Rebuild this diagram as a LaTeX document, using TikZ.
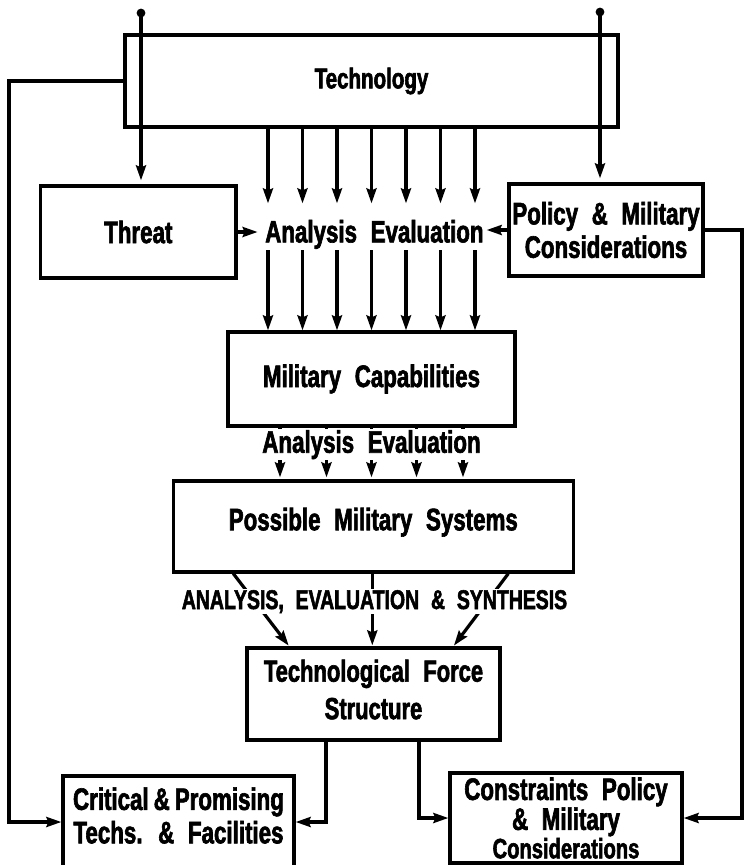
\documentclass[tikz,border=0pt]{standalone}
\usepackage{fontspec}
\newfontfamily\cf{Liberation Sans}[FakeStretch=0.72,WordSpace=2.2,FakeBold=2]
\usetikzlibrary{arrows.meta,calc}
\newcommand\boxfnt{\cf\bfseries\fontsize{31}{33.4}\selectfont}
\begin{document}
\begin{tikzpicture}[x=1pt,y=-1pt,line width=3.2pt,
  box/.style={draw,rectangle,inner sep=0pt,align=center,font=\boxfnt},
  txt/.style={inner sep=0pt,align=center,font=\boxfnt},
  arr/.style={-{Stealth[length=15pt,width=10pt,inset=2pt]}}]
\useasboundingbox (0,0) rectangle (747,865);

% boxes
\node[box,minimum width=493pt,minimum height=92pt,font={\cf\bfseries\fontsize{28.5}{30}\selectfont}] (tech) at (371.5,81) {Technology};
\node[box,minimum width=195.5pt,minimum height=92pt] (threat) at (138.3,232) {Threat};
\node[box,minimum width=194pt,minimum height=92pt] (policy) at (606,230) {Policy \& Military\\Considerations};
\node[box,minimum width=287pt,minimum height=94pt] (mc) at (371.5,379) {Military Capabilities};
\node[box,minimum width=400pt,minimum height=91pt,text depth=15pt] (pms) at (373.3,526.5) {Possible Military Systems};
\node[box,minimum width=253pt,minimum height=92pt] (tfs) at (373.5,694) {};
\node[txt,font={\cf\bfseries\fontsize{30.5}{37.5}\selectfont}] (tfslbl) at (373.5,689.5) {Technological Force\\Structure};
\node[box,minimum width=231pt,minimum height=92pt] (crit) at (178.5,822) {};
\node[txt] (critlbl) at (178.5,815.5) {Critical\hspace{5pt}\&\hspace{5pt}Promising\\Techs. \& Facilities};
\node[box,minimum width=232pt,minimum height=90pt,font={\cf\bfseries\fontsize{31}{28.4}\selectfont}] (cons) at (566,818) {Constraints Policy\\\& Military\\{\fontsize{28}{28.4}\selectfont Considerations}};

% upper analysis text
\node[txt,anchor=base,text height=37.4pt,text depth=6pt] (ae1) at (374.4,242.4) {Analysis Evaluation};

% inputs with dots
\coordinate (inL) at (141,13);
\coordinate (inR) at (600,12);
\fill (inL) circle (4.4pt);
\fill (inR) circle (4.4pt);
\draw[arr,shorten >=4pt] (inL) -- (inL |- threat.north);
\draw[arr,shorten >=4pt] (inR) -- (inR |- policy.north);

% technology -> analysis -> capabilities
\foreach \d in {-103.5,-69,-34.5,0,34.5,69,103.5}{
  \draw[arr] ([xshift=\d pt]tech.south) -- ([xshift=\d pt]tech.south |- ae1.north);
  \draw[arr] ([xshift=\d pt]mc.north |- ae1.south) -- ([xshift=\d pt]mc.north);
}
\draw[arr,shorten >=6pt] (threat.east) -- (threat.east -| ae1.west);
\draw[arr,shorten >=1.5pt] (policy.west) -- (policy.west -| ae1.east);

% capabilities -> systems
\foreach \d in {-91.5,-45,0,45,91.5}{
  \draw[arr,shorten >=2pt] ([xshift=\d pt]mc.south) -- ([xshift=\d pt]mc.south |- pms.north);
}
\node[txt,fill=white,inner sep=1pt,anchor=base] (ae2) at (371.5,452.7) {Analysis Evaluation};

% systems -> force structure
\draw[arr,shorten >=1pt] ([xshift=-140pt]pms.south) -- ([xshift=-84.2pt]tfs.north);
\draw[arr,shorten >=1pt] ([xshift=-1pt]pms.south) -- ([xshift=-1.2pt]tfs.north);
\draw[arr,shorten >=1pt] ([xshift=135pt]pms.south) -- ([xshift=79.8pt]tfs.north);
\node[txt,fill=white,inner sep=1pt,anchor=base,font={\cf\bfseries\fontsize{27}{30}\selectfont}] (aes) at (374.5,609) {ANALYSIS, EVALUATION \& SYNTHESIS};

% force structure -> outputs
\draw[arr] ([xshift=-47.5pt]tfs.south) |- (crit.east);
\draw[arr] ([xshift=45.5pt]tfs.south) |- (cons.west);

% feedback lines
\coordinate (fbl) at (9,81);
\coordinate (fbr) at (742,230);
\draw[arr] (tech.west) -- (fbl) |- (crit.west);
\draw[arr] (policy.east) -- (fbr) |- (cons.east);
\end{tikzpicture}
\end{document}
